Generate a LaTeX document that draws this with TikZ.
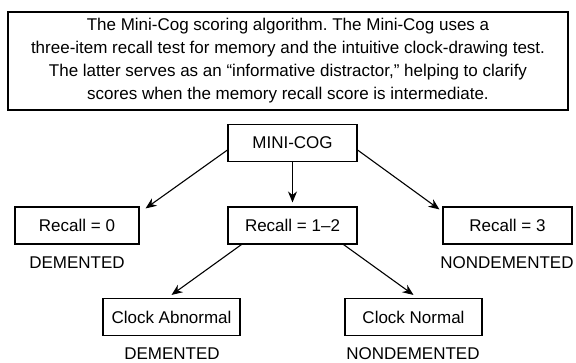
\documentclass[tikz,border=0pt]{standalone}
\usepackage{fontspec}
\setmainfont{Liberation Sans}
\usetikzlibrary{arrows.meta}
\frenchspacing
\tikzstyle{score} = [draw=black, line width=1.1pt, rectangle,
                     minimum height=37pt, inner sep=0pt]
\tikzstyle{verdict} = [inner sep=0pt]
\tikzstyle{link} = [line width=1.1pt, -{Stealth[length=11pt,width=9pt]}]

\begin{document}
\begin{tikzpicture}[x=1pt, y=-1pt, font=\fontsize{17}{23}\selectfont]
  \useasboundingbox (0,0) rectangle (576,362);
  % caption box
  \node [score, minimum width=560pt, minimum height=98pt, align=center]
    (caption) at (288,61) {%
      The Mini-Cog scoring algorithm. The Mini-Cog uses a\\
      three-item recall test for memory and the intuitive clock-drawing test.\\
      The latter serves as an \textquotedblleft informative distractor,\textquotedblright{} helping to clarify\\
      scores when the memory recall score is intermediate.};
  % tree
  \node [score, minimum width=129pt] (minicog) at (292.5,143) {MINI-COG};
  \node [score, minimum width=124pt] (recallA) at (77,225.5) {Recall = 0};
  \node [score, minimum width=129pt] (recallB) at (292.5,225.5) {Recall = 1--2};
  \node [score, minimum width=129pt] (recallC) at (507.5,225.5) {Recall = 3};
  \node [verdict] (demA) at (77,263) {DEMENTED};
  \node [verdict] (nondemA) at (507,263) {NONDEMENTED};
  \node [score, minimum width=137pt] (clockA) at (171.5,317) {Clock Abnormal};
  \node [score, minimum width=137pt] (clockB) at (413.5,317) {Clock Normal};
  \node [verdict] (demB) at (172,354) {DEMENTED};
  \node [verdict] (nondemB) at (413,354) {NONDEMENTED};
  % arrows
  \draw [link] ([yshift=-7pt]minicog.west) -- ([xshift=6pt,yshift=-2pt]recallA.north east);
  \draw [link] (minicog.south) -- ([yshift=4pt]recallB.north);
  \draw [link] ([yshift=-7pt]minicog.east) -- ([xshift=-3pt,yshift=-3pt]recallC.north west);
  \draw [link] ([xshift=14pt]recallB.south west) -- ([yshift=3pt]clockA.north);
  \draw [link] ([xshift=-14pt]recallB.south east) -- ([yshift=3pt]clockB.north);
\end{tikzpicture}
\end{document}
